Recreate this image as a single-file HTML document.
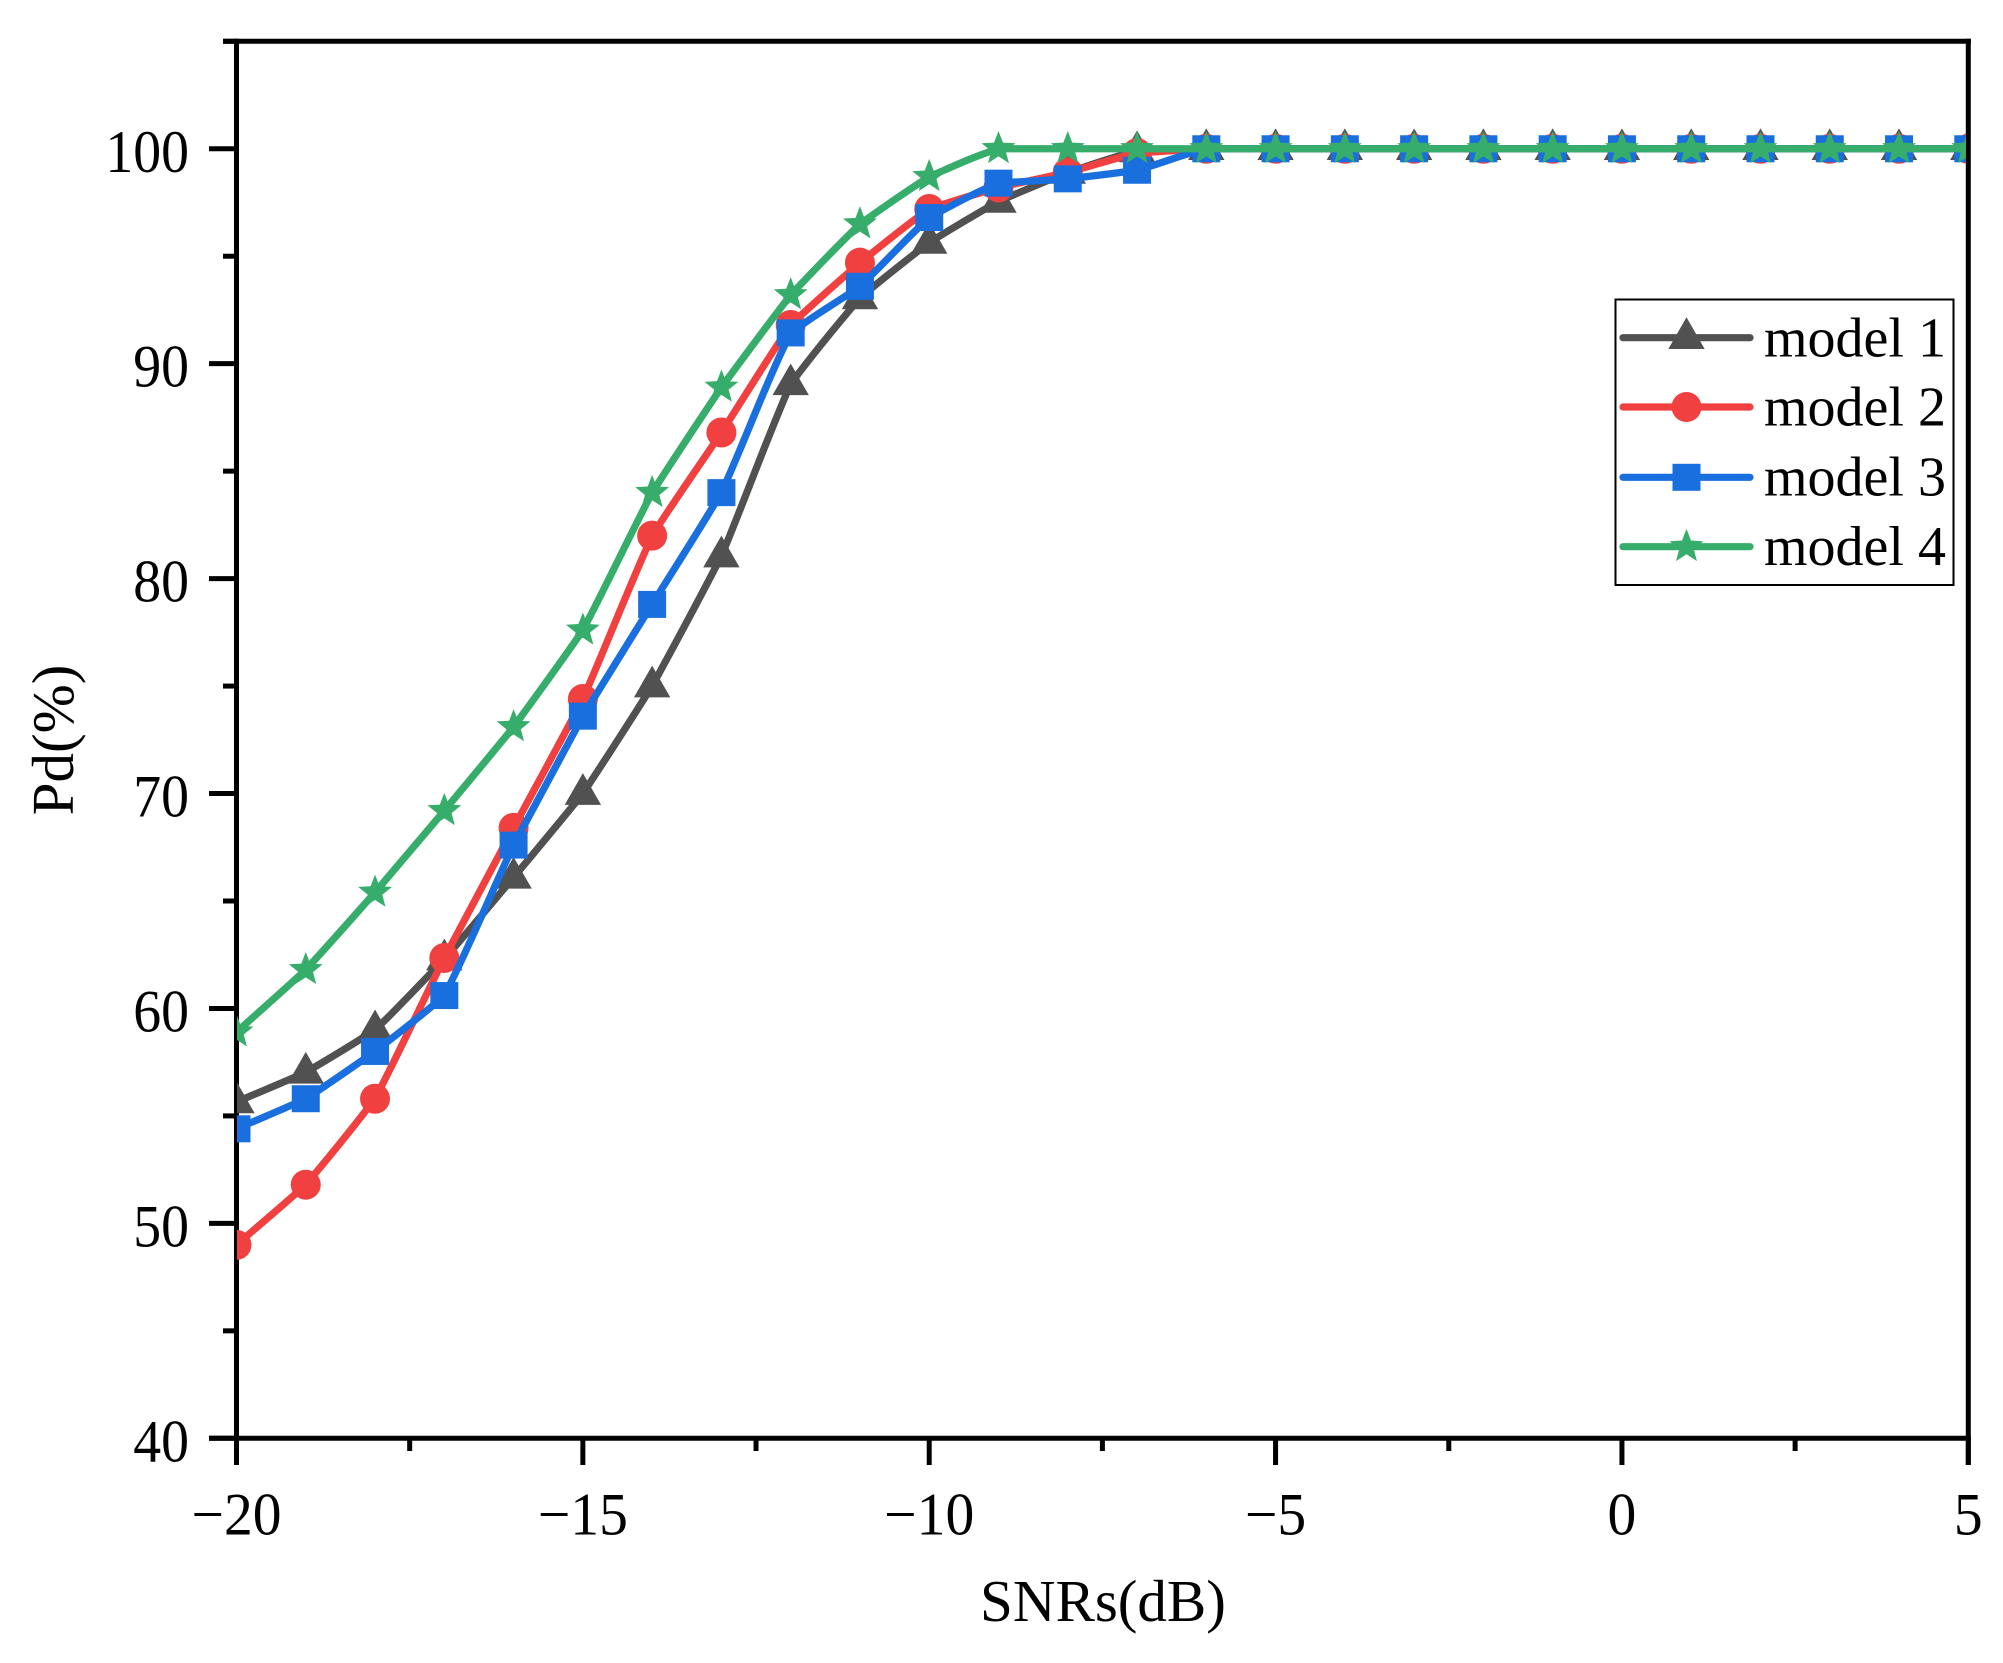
<!DOCTYPE html>
<html lang="en">
<head>
<meta charset="utf-8">
<title>Pd vs SNR chart</title>
<style>
html,body{margin:0;padding:0;background:#fff;width:2003px;height:1663px;overflow:hidden}
svg{display:block}
text{font-family:"Liberation Serif",serif;fill:#000}
</style>
</head>
<body>
<svg id="chart" xmlns="http://www.w3.org/2000/svg" width="2003" height="1663" viewBox="0 0 2003 1663">
<defs><clipPath id="plot-clip"><rect x="237" y="41" width="1729" height="1398"/></clipPath></defs>
<rect width="2003" height="1663" fill="#fff"/>
<g id="axes"></g>
<g id="series" clip-path="url(#plot-clip)"></g>
<g id="legend"></g>
<text x="1103" y="1621" font-size="59" text-anchor="middle">SNRs(dB)</text>
<text x="0" y="0" font-size="59" text-anchor="middle" transform="translate(73,740) rotate(-90)">Pd(%)</text>
</svg>
<script>
const snrValues = [-20,-19,-18,-17,-16,-15,-14,-13,-12,-11,-10,-9,-8,-7,-6,-5,-4,-3,-2,-1,0,1,2,3,4,5];
const model1 = [55.65,57.03,59,62.3,66.1,70,75,81.05,89.06,93.06,95.64,97.55,98.9,99.9,100,100,100,100,100,100,100,100,100,100,100,100];
const model2 = [49,51.8,55.8,62.35,68.4,74.4,82,86.8,91.8,94.7,97.2,98.2,98.9,99.8,100,100,100,100,100,100,100,100,100,100,100,100];
const model3 = [54.4,55.8,58,60.6,67.6,73.6,78.8,84,91.43,93.6,96.8,98.4,98.6,99,100,100,100,100,100,100,100,100,100,100,100,100];
const model4 = [58.9,61.8,65.4,69.2,73.1,77.6,84,88.9,93.2,96.5,98.7,100,100,100,100,100,100,100,100,100,100,100,100,100,100,100];
const seriesNames = ["model 1","model 2","model 3","model 4"];
const seriesColors = ["#515151","#f14040","#1a6fdf","#37ad6b"];
const seriesMarkers = ["triangle","circle","square","star"];
const xTickLabels = [-20,-15,-10,-5,0,5];
const xMinorTicks = [-17.5,-12.5,-7.5,-2.5,2.5];
const yTickLabels = [40,50,60,70,80,90,100];
const yMinorTicks = [45,55,65,75,85,95,105];

const NS = "http://www.w3.org/2000/svg";
const L = 236.5, R = 1968.3, B = 1438.3, T = 41.3;
const xScale = v => L + (v + 20) / 25 * (R - L);
const yScale = v => B - (v - 40) / 65 * (B - T);
const fmt = v => String(v).replace("-", "\u2212");

function make(tag, attrs, parent) {
  const n = document.createElementNS(NS, tag);
  for (const k in attrs) n.setAttribute(k, attrs[k]);
  parent.appendChild(n);
  return n;
}

function drawMarker(kind, cx, cy, color, parent) {
  let m;
  if (kind === "circle") {
    m = make("circle", {cx: cx, cy: cy, r: 15, fill: color}, parent);
  } else if (kind === "square") {
    m = make("rect", {x: cx - 14, y: cy - 13.5, width: 28, height: 27, fill: color}, parent);
  } else if (kind === "triangle") {
    m = make("polygon", {points: [[cx, cy - 20.4], [cx + 18.2, cy + 11.3], [cx - 18.2, cy + 11.3]].join(" "), fill: color}, parent);
  } else {
    const pts = [];
    for (let i = 0; i < 10; i++) {
      const r = i % 2 ? 7.6 : 17.8;
      const a = -Math.PI / 2 + i * Math.PI / 5;
      pts.push([cx + r * Math.cos(a), cy + r * Math.sin(a)]);
    }
    m = make("polygon", {points: pts.join(" "), fill: color}, parent);
  }
  
  
  return m;
}

const smoothing = 0.25;
function smoothPath(xs, ys) {
  const n = xs.length, s = [], t = [];
  for (let i = 0; i < n - 1; i++) s.push((ys[i + 1] - ys[i]) / (xs[i + 1] - xs[i]));
  for (let i = 0; i < n; i++) {
    if (i === 0) t.push(s[0]);
    else if (i === n - 1) t.push(s[n - 2]);
    else if (s[i - 1] * s[i] <= 0) t.push(0);
    else t.push(2 * s[i - 1] * s[i] / (s[i - 1] + s[i]));
  }
  let d = "M" + xs[0] + " " + ys[0];
  for (let i = 0; i < n - 1; i++) {
    const h = (xs[i + 1] - xs[i]) / 3;
    const a = s[i] * (1 - smoothing) + t[i] * smoothing;
    const b = s[i] * (1 - smoothing) + t[i + 1] * smoothing;
    d += "C" + (xs[i] + h) + " " + (ys[i] + a * h) + " " + (xs[i + 1] - h) + " " + (ys[i + 1] - b * h) + " " + xs[i + 1] + " " + ys[i + 1];
  }
  return d;
}

const axes = document.getElementById("axes");
function axisLine(x1, y1, x2, y2, w, name) {
  const l = make("line", {x1: x1, y1: y1, x2: x2, y2: y2, stroke: "#000", "stroke-width": w}, axes);
  
  
}
axisLine(L, 38.8, L, 1465, 5, "y-axis-line");
axisLine(R, 38.8, R, 1465, 5, "right-axis-line");
axisLine(209, B, 1970.8, B, 5, "x-axis-line");
axisLine(223, T, 1970.8, T, 5, "top-axis-line");

xTickLabels.forEach(v => {
  axisLine(xScale(v), B, xScale(v), 1465, 5, "x-tick");
  const t = make("text", {"font-size": 60, "text-anchor": "middle", transform: "translate(" + xScale(v) + ",1534.3) scale(.96,1)"}, axes);
  t.textContent = fmt(v);
  
  
});
xMinorTicks.forEach(v => axisLine(xScale(v), B, xScale(v), 1451, 5, "x-minor-tick"));
yTickLabels.forEach(v => {
  axisLine(209, yScale(v), L, yScale(v), 5, "y-tick");
  const t = make("text", {"font-size": 60, "text-anchor": "end", transform: "translate(189," + (yScale(v) + 23) + ") scale(.93,1)"}, axes);
  t.textContent = fmt(v);
  
  
});
yMinorTicks.forEach(v => axisLine(223, yScale(v), L, yScale(v), 5, "y-minor-tick"));

const seriesLayer = document.getElementById("series");
[model1, model2, model3, model4].forEach((vals, i) => {
  const g = make("g", {}, seriesLayer);
  
  
  const p = make("path", {d: smoothPath(snrValues.map(xScale), vals.map(yScale)), fill: "none", stroke: seriesColors[i], "stroke-width": 7.2, "stroke-linejoin": "round"}, g);
  
  
  vals.forEach((v, j) => drawMarker(seriesMarkers[i], xScale(snrValues[j]), yScale(v), seriesColors[i], g));
});

const legend = document.getElementById("legend");
const box = make("rect", {x: 1615.5, y: 299.5, width: 338, height: 285.5, fill: "#fff", stroke: "#000", "stroke-width": 2}, legend);


const legendLineY = [337.7, 407, 477.3, 546.7];
const legendBaseY = [356.7, 425.7, 495.7, 565];
seriesNames.forEach((name, i) => {
  const g = make("g", {}, legend);
  
  
  const l = make("line", {x1: 1623, x2: 1750, y1: legendLineY[i], y2: legendLineY[i], stroke: seriesColors[i], "stroke-width": 7.2, "stroke-linecap": "round"}, g);
  
  
  drawMarker(seriesMarkers[i], 1686.5, legendLineY[i], seriesColors[i], g);
  const t = make("text", {x: 1764, y: legendBaseY[i], "font-size": 56}, g);
  t.textContent = name;
  
  
});
</script>
</body>
</html>
